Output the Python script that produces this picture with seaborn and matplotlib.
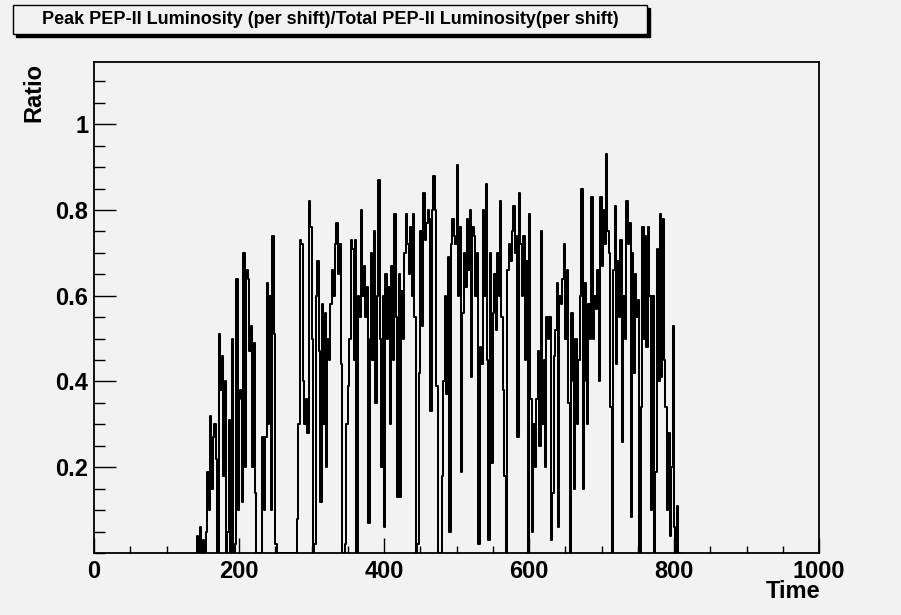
import numpy as np
import pandas as pd
import matplotlib
matplotlib.use("Agg")
import matplotlib.pyplot as plt
import matplotlib.patches as patches
from matplotlib.ticker import MultipleLocator, FixedLocator
import seaborn as sns

# ratio per shift, 2-unit bins starting at time 140
time_start = 140
bin_width = 2
ratio = [
    0, 0.04, 0, 0.06, 0,
    0.03, 0, 0.05, 0.19, 0.10,
    0.32, 0.15, 0.27, 0.30, 0.22,
    0, 0.51, 0.38, 0.46, 0.18,
    0.40, 0, 0.05, 0.31, 0,
    0.50, 0, 0.02, 0.64, 0.10,
    0.36, 0.38, 0.12, 0.70, 0.20,
    0.66, 0.64, 0.47, 0.53, 0.20,
    0.49, 0.14, 0, 0, 0,
    0, 0.27, 0.10, 0.27, 0.63,
    0.30, 0.60, 0.10, 0.74, 0.51,
    0.02, 0, 0, 0, 0,
    0, 0, 0, 0, 0,
    0, 0, 0, 0, 0,
    0.08, 0.30, 0.73, 0.72, 0.40,
    0.30, 0.36, 0.28, 0.82, 0.76,
    0.50, 0, 0.02, 0.60, 0.68,
    0.47, 0.12, 0.58, 0.30, 0.56,
    0.20, 0.50, 0.45, 0.58, 0.66,
    0.60, 0.72, 0.77, 0.65, 0.72,
    0.44, 0, 0, 0.02, 0.30,
    0.39, 0.50, 0.73, 0.71, 0.45,
    0.73, 0, 0.60, 0.55, 0.80,
    0.60, 0.67, 0.55, 0.62, 0.07,
    0.50, 0.70, 0.45, 0.75, 0.35,
    0.60, 0.87, 0.50, 0.20, 0.60,
    0.06, 0.65, 0.50, 0.62, 0.30,
    0.67, 0.45, 0.79, 0.55, 0.13,
    0.65, 0.13, 0.61, 0.50, 0.70,
    0.79, 0.72, 0.65, 0.76, 0.60,
    0.79, 0.55, 0, 0.02, 0.42,
    0.75, 0.53, 0.84, 0.73, 0.77,
    0.80, 0.78, 0.33, 0.80, 0.88,
    0.80, 0.39, 0, 0, 0,
    0.18, 0.40, 0.60, 0.37, 0.69,
    0.05, 0.72, 0.78, 0.74, 0.72,
    0.905, 0.60, 0.76, 0.19, 0.56,
    0.70, 0.62, 0.78, 0.66, 0.80,
    0.41, 0.76, 0.74, 0.60, 0.70,
    0.02, 0.48, 0.44, 0.80, 0.60,
    0.86, 0.45, 0.03, 0.70, 0.21,
    0.56, 0.65, 0.52, 0.70, 0.60,
    0.82, 0.55, 0.38, 0.18, 0,
    0.66, 0.72, 0.68, 0.75, 0.81,
    0.70, 0.74, 0.27, 0.84, 0.72,
    0.60, 0.74, 0.45, 0.68, 0,
    0.79, 0.36, 0.05, 0.30, 0.20,
    0.36, 0.47, 0.25, 0.75, 0.30,
    0.45, 0.20, 0.55, 0.50, 0.55,
    0.03, 0.14, 0.46, 0.52, 0.63,
    0.06, 0.60, 0.58, 0.64, 0.72,
    0.50, 0.66, 0.35, 0, 0.56,
    0.40, 0.15, 0.50, 0.30, 0.45,
    0.60, 0.85, 0.15, 0.63, 0.40,
    0.30, 0.58, 0.50, 0.83, 0.50,
    0.60, 0.57, 0.66, 0.40, 0.83,
    0.67, 0.80, 0.72, 0.93, 0.75,
    0.70, 0.34, 0, 0.66, 0.81,
    0.44, 0.68, 0.55, 0.73, 0.26,
    0.60, 0.50, 0.82, 0.72, 0.77,
    0.085, 0.70, 0.42, 0.65, 0.55,
    0.59, 0, 0.34, 0.76, 0.50,
    0.74, 0.48, 0.76, 0.60, 0.10,
    0.60, 0, 0.19, 0.71, 0.40,
    0.79, 0.41, 0.78, 0.45, 0.34,
    0.10, 0.28, 0.04, 0.20, 0.53,
    0.06, 0, 0.11, 0,
]

time = time_start + bin_width * np.arange(len(ratio)) + bin_width / 2
df = pd.DataFrame({"Time": time, "Ratio": ratio})

bg = "#f2f2f2"
sns.set_theme(style="ticks")
plt.rcParams["font.family"] = ["Liberation Sans Narrow", "Liberation Sans", "DejaVu Sans"]
plt.rcParams["font.weight"] = "bold"
plt.rcParams["text.color"] = "black"

W, H = 901, 615
fig = plt.figure(figsize=(9.01, 6.15), dpi=100, facecolor=bg)
ax = fig.add_axes([94 / W, 1 - 553 / H, 725 / W, 491 / H])
ax.set_facecolor(bg)

sns.histplot(data=df, x="Time", weights="Ratio", binwidth=bin_width,
             binrange=(time_start, time_start + bin_width * len(ratio)),
             element="step", fill=False, color="black", linewidth=1.45, ax=ax)

ax.set_xlim(0, 1000)
ax.set_ylim(0, 1.145)
ax.set_xlabel("")
ax.set_ylabel("")

ax.xaxis.set_major_locator(MultipleLocator(200))
ax.xaxis.set_minor_locator(MultipleLocator(50))
ax.yaxis.set_major_locator(FixedLocator([0.2, 0.4, 0.6, 0.8, 1.0]))
ax.yaxis.set_minor_locator(MultipleLocator(0.05))
ax.set_yticklabels(["0.2", "0.4", "0.6", "0.8", "1"])
ax.tick_params(which="both", direction="in", top=False, right=False,
               color="black", width=1, labelsize=17, labelcolor="black")
ax.tick_params(axis="x", which="major", length=10.8, pad=5)
ax.tick_params(axis="x", which="minor", length=5.4)
ax.tick_params(axis="y", which="major", length=15.8, pad=4)
ax.tick_params(axis="y", which="minor", length=7.9)
for sp in ax.spines.values():
    sp.set_color("black")
    sp.set_linewidth(1.3)

fig.text(34 / W, 1 - 63 / H, "Ratio", rotation=90, ha="center", va="top",
         fontsize=17, fontweight="bold", color="black")
fig.text(820 / W, 1 - 592 / H, "Time", ha="right", va="center",
         fontsize=17, fontweight="bold", color="black")

# title box with shadow
x0, y0, x1, y1 = 13, 5, 647, 34
fig.patches.append(patches.Rectangle(((x0 + 3) / W, 1 - (y1 + 3) / H),
                                     (x1 - x0) / W, (y1 - y0) / H,
                                     transform=fig.transFigure, facecolor="black",
                                     edgecolor="black", zorder=1))
fig.patches.append(patches.Rectangle((x0 / W, 1 - y1 / H),
                                     (x1 - x0) / W, (y1 - y0) / H,
                                     transform=fig.transFigure, facecolor=bg,
                                     edgecolor="black", linewidth=1, zorder=2))
fig.text((x0 + x1) / 2 / W, 1 - (y0 + y1) / 2 / H,
         "Peak PEP-II Luminosity (per shift)/Total PEP-II Luminosity(per shift)",
         ha="center", va="center", fontsize=13, fontweight="bold", color="black",
         family=["Liberation Sans", "DejaVu Sans"], zorder=3)

fig.savefig("out.png", dpi=100, facecolor=bg)
